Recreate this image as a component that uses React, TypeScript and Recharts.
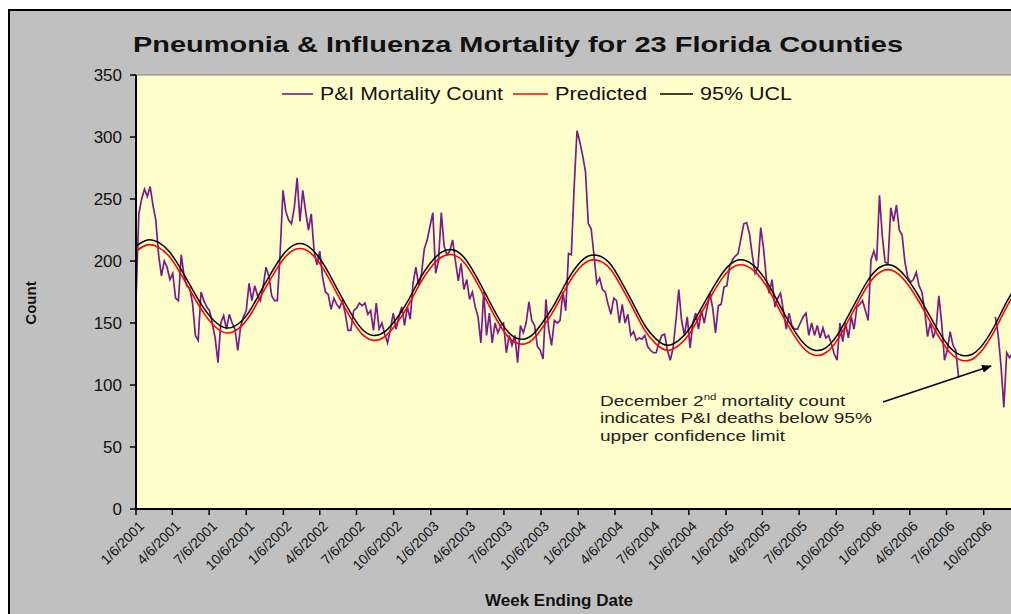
import React from 'react'
import { LineChart, Line, XAxis, YAxis } from 'recharts'

const font = '"Liberation Sans", Arial, sans-serif'

// weekly P&I counts, week ending 1/6/2001 onward (null = no value plotted)
const weekCounts: (number | null)[] = [
  168, 238, 250, 258, 252, 260, 245, 233, 205, 188,
  200, 195, 185, 190, 170, 168, 205, 188, 180, 178,
  166, 140, 136, 175, 168, 163, 160, 150, 138, 118,
  150, 156, 145, 157, 150, 145, 128, 147, 155, 160,
  182, 168, 180, 172, 168, 180, 195, 188, 172, 168,
  168, 207, 257, 240, 233, 230, 243, 267, 232, 257,
  240, 225, 238, 208, 197, 208, 187, 175, 173, 161,
  170, 165, 162, 168, 158, 144, 144, 160, 162, 166,
  164, 166, 157, 160, 144, 166, 145, 150, 141, 134,
  145, 158, 145, 155, 163, 148, 163, 153, 182, 195,
  180, 190, 210, 217, 228, 239, 190, 200, 239, 212,
  205, 208, 217, 200, 184, 198, 177, 185, 169, 175,
  163, 155, 134, 175, 140, 158, 134, 150, 142, 148,
  150, 126, 140, 132, 140, 118, 148, 142, 150, 167,
  152, 148, 131, 128, 121, 169, 145, 132, 152, 150,
  152, 175, 160, 206, 205, 260, 305, 296, 285, 272,
  230, 226, 205, 182, 186, 177, 175, 165, 157, 170,
  168, 150, 165, 150, 157, 140, 143, 136, 138, 137,
  140, 131, 128, 126, 126, 134, 140, 141, 128, 120,
  130, 152, 177, 152, 140, 155, 130, 150, 158, 145,
  160, 150, 162, 174, 162, 142, 164, 165, 179, 180,
  196, 201, 204, 206, 218, 230, 231, 222, 205, 190,
  195, 227, 210, 185, 174, 185, 163, 170, 174, 160,
  145, 158, 148, 145, 145, 150, 155, 158, 140, 150,
  140, 148, 138, 146, 138, 140, 133, 125, 120, 150,
  135, 150, 138, 155, 145, 163, 165, 168, 160, 152,
  201, 208, 200, 253, 220, 199, 198, 243, 232, 245,
  225, 221, 199, 187, 183, 185, 191, 180, 175, 160,
  139, 150, 138, 145, 172, 150, 120, 128, 143, 132,
  128, 106, null, null, null, null, null, null, null, null,
  null, null, null, null, 155, 140, 115, 82, 126, 122,
  125,
]

// model values every 4 weeks
const predicted = [
  208, 213, 211, 203, 189, 173, 158, 147, 142, 145,
  155, 171, 187, 201, 209, 209, 201, 187, 170, 154,
  141, 136, 139, 149, 163, 180, 194, 203, 205, 199,
  185, 168, 151, 138, 133, 136, 147, 161, 178, 192,
  200, 200, 193, 178, 161, 144, 133, 128, 132, 142,
  158, 174, 188, 196, 196, 189, 176, 159, 143, 130,
  124, 126, 136, 152, 169, 184, 192, 192, 184, 171,
  155, 139, 126, 120, 121, 130, 145, 163, 178,
]
const upperLimit = [
  212, 217, 215, 207, 193, 177, 162, 151, 146, 149,
  159, 175, 191, 205, 213, 213, 205, 191, 174, 158,
  145, 140, 143, 153, 167, 184, 198, 207, 209, 203,
  189, 172, 155, 142, 137, 140, 151, 165, 182, 196,
  204, 204, 197, 182, 165, 148, 137, 132, 136, 146,
  162, 178, 192, 200, 200, 193, 180, 163, 147, 134,
  128, 130, 140, 156, 173, 188, 196, 196, 188, 175,
  159, 143, 130, 124, 125, 134, 149, 167, 182,
]

const tickLabels = [
  '1/6/2001', '4/6/2001', '7/6/2001', '10/6/2001',
  '1/6/2002', '4/6/2002', '7/6/2002', '10/6/2002',
  '1/6/2003', '4/6/2003', '7/6/2003', '10/6/2003',
  '1/6/2004', '4/6/2004', '7/6/2004', '10/6/2004',
  '1/6/2005', '4/6/2005', '7/6/2005', '10/6/2005',
  '1/6/2006', '4/6/2006', '7/6/2006', '10/6/2006',
]
const yTicks = [0, 50, 100, 150, 200, 250, 300, 350]

const start = Date.UTC(2001, 0, 6)
const dayOf = (label: string) => {
  const [m, d, y] = label.split('/').map(Number)
  return Math.round((Date.UTC(y, m - 1, d) - start) / 86400000)
}
const tickDays = tickLabels.map(dayOf)

const weeks = Math.max(weekCounts.length, (predicted.length - 1) * 4 + 1)
const rows = Array.from({ length: weeks }, (_, j) => ({
  day: j * 7,
  count: j < weekCounts.length ? weekCounts[j] : null,
  predicted: j % 4 === 0 ? predicted[j / 4] ?? null : null,
  ucl: j % 4 === 0 ? upperLimit[j / 4] ?? null : null,
}))
const lastDay = (predicted.length - 1) * 28

function DateTick(props: any) {
  const { x, y, payload } = props
  const label = tickLabels[tickDays.indexOf(payload.value)] ?? ''
  const ax = x + 9
  const ay = y + 10
  return (
    <text x={ax} y={ay} transform={`rotate(-45 ${ax} ${ay})`} textAnchor="end"
      fontSize={14} fontFamily={font} fill="#111">
      {label}
    </text>
  )
}

export default function App() {
  return (
    <svg width={1011} height={614} style={{ position: 'fixed', left: 0, top: 0 }} fontFamily={font}>
      <rect x={0} y={0} width={1011} height={614} fill="#fff" />
      <rect x={9} y={10} width={1100} height={700} fill="#c0c0c0" stroke="#000" strokeWidth={2} />
      <rect x={136} y={75} width={900} height={434} fill="#ffffcc" stroke="#808080" strokeWidth={1} />
      <foreignObject x={0} y={0} width={1011} height={614}>
        <LineChart width={1030} height={614} data={rows} margin={{ top: 75, right: 12, bottom: 0, left: 0 }}>
          <XAxis dataKey="day" type="number" domain={[0, lastDay]} ticks={tickDays} interval={0}
            height={105} tick={<DateTick />} tickSize={6}
            axisLine={{ stroke: '#000', strokeWidth: 2 }} tickLine={{ stroke: '#000', strokeWidth: 1.5 }} />
          <YAxis type="number" domain={[0, 350]} ticks={yTicks} interval={0} width={136}
            tickSize={6} tickMargin={8}
            tick={{ fontSize: 17, fill: '#111', fontFamily: font }}
            axisLine={{ stroke: '#000', strokeWidth: 2 }} tickLine={{ stroke: '#000', strokeWidth: 1.5 }} />
          <Line dataKey="count" type="linear" stroke="#7a1a8c" strokeWidth={1.7} dot={false}
            connectNulls={false} isAnimationActive={false} />
          <Line dataKey="predicted" type="natural" stroke="#ff0000" strokeWidth={1.6} dot={false}
            connectNulls isAnimationActive={false} />
          <Line dataKey="ucl" type="natural" stroke="#000" strokeWidth={1.5} dot={false}
            connectNulls isAnimationActive={false} />
        </LineChart>
      </foreignObject>
      <defs>
        <marker id="head" markerWidth="10" markerHeight="8" refX="9" refY="4" orient="auto" markerUnits="userSpaceOnUse">
          <path d="M0,0 L10,4 L0,8 Z" fill="#000" />
        </marker>
      </defs>
      <text x={133} y={52} fontSize={22} fontWeight="bold" textLength={770} lengthAdjust="spacingAndGlyphs" fill="#111">
        Pneumonia &amp; Influenza Mortality for 23 Florida Counties
      </text>
      <line x1={282} y1={94} x2={313} y2={94} stroke="#7a1a8c" strokeWidth={1.6} />
      <text x={320} y={100} fontSize={18} textLength={183} lengthAdjust="spacingAndGlyphs" fill="#111">P&amp;I Mortality Count</text>
      <line x1={513} y1={94} x2={548} y2={94} stroke="#ff0000" strokeWidth={1.6} />
      <text x={555} y={100} fontSize={18} textLength={92} lengthAdjust="spacingAndGlyphs" fill="#111">Predicted</text>
      <line x1={660} y1={94} x2={693} y2={94} stroke="#000" strokeWidth={1.5} />
      <text x={700} y={100} fontSize={18} textLength={92} lengthAdjust="spacingAndGlyphs" fill="#111">95% UCL</text>
      <text x={36} y={303} fontSize={15} fontWeight="bold" textAnchor="middle" transform="rotate(-90 36 303)" fill="#111">Count</text>
      <text x={559} y={606} fontSize={17} fontWeight="bold" textAnchor="middle" fill="#111">Week Ending Date</text>
      <g transform="translate(600 0) scale(1.27 1) translate(-600 0)" fontSize={15} fill="#222">
        <text x={600} y={406}>December 2<tspan dy={-6} fontSize={9}>nd</tspan><tspan dy={6}> mortality count</tspan></text>
        <text x={600} y={423}>indicates P&amp;I deaths below 95%</text>
        <text x={600} y={441}>upper confidence limit</text>
      </g>
      <line x1={883} y1={402} x2={991} y2={366} stroke="#000" strokeWidth={1.5} markerEnd="url(#head)" />
    </svg>
  )
}
